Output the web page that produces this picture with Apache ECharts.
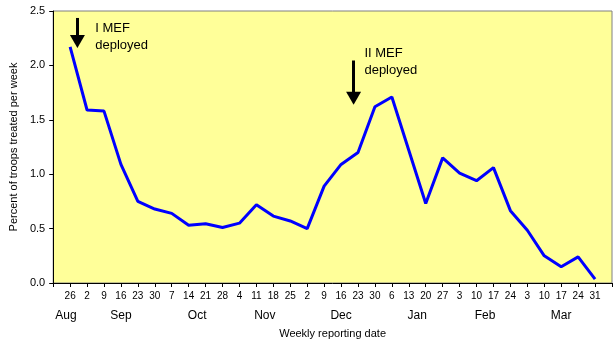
<!DOCTYPE html>
<html>
<head>
<meta charset="utf-8">
<script src="https://cdn.jsdelivr.net/npm/echarts@6/dist/echarts.min.js"></script>
<style>
html,body{margin:0;padding:0;background:#fff;}
#c{width:615px;height:344px;}
</style>
</head>
<body>
<div id="c"></div>
<script>
// Week labels (day of month) for each weekly reporting date
const weekDays = ['26','2','9','16','23','30','7','14','21','28','4','11','18','25','2','9','16','23','30','6','13','20','27','3','10','17','24','3','10','17','24','31'];
// Month groups
const monthNames = ['Aug','Sep','Oct','Nov','Dec','Jan','Feb','Mar'];
const weeksPerMonth = [1,5,4,4,5,4,4,5];
// Percent of troops treated per week
const percentTreated = [2.17,1.59,1.58,1.09,0.75,0.68,0.64,0.53,0.545,0.51,0.55,0.72,0.615,0.57,0.50,0.89,1.09,1.20,1.62,1.71,1.22,0.73,1.15,1.01,0.94,1.06,0.665,0.485,0.25,0.15,0.24,0.035];
// Y ticks
const yMin = 0, yMax = 2.5, yStep = 0.5;
// Annotations
const annotations = [
  {text:'I MEF\ndeployed', arrowX:1.43, arrowTop:2.436, arrowEnd:2.219, textX:2.48, textY:2.266},
  {text:'II MEF\ndeployed', arrowX:17.74, arrowTop:2.045, arrowEnd:1.699, textX:18.38, textY:2.03}
];

const FONT = '"Liberation Sans", Arial, sans-serif';
const nWeeks = weekDays.length;
const monthCenters = [];
let start = 1;
weeksPerMonth.forEach((n, k) => {
  const lo = k === 0 ? 0 : start - 0.5;
  const hi = start + n - 0.5;
  monthCenters.push((lo + hi) / 2);
  start += n;
});

const chart = echarts.init(document.getElementById('c'), null, {renderer:'canvas'});
chart.setOption({
  animation:false,
  backgroundColor:'#ffffff',
  grid:{left:53, right:2, top:11, bottom:60, show:true, backgroundColor:'#FFFF99', borderColor:'#808080', borderWidth:1},
  xAxis:[{
    type:'value', min:0, max:nWeeks+1, interval:1,
    axisLine:{show:true, lineStyle:{color:'#000', width:1}},
    axisTick:{show:true, length:4, lineStyle:{color:'#000'}},
    splitLine:{show:false},
    axisLabel:{color:'#000', fontFamily:FONT, fontSize:10, margin:8, showMinLabel:true, showMaxLabel:true,
      formatter:v => (v>=1 && v<=nWeeks) ? weekDays[Math.round(v)-1] : ''}
  },{
    type:'value', min:0, max:nWeeks+1, position:'bottom', offset:19,
    axisLine:{show:false}, axisTick:{show:false}, splitLine:{show:false},
    axisLabel:{color:'#000', fontFamily:FONT, fontSize:12, margin:8, customValues:monthCenters,
      formatter:v => { const i = monthCenters.findIndex(c => Math.abs(c - v) < 1e-6); return i>=0 ? monthNames[i] : ''; }},
    name:'Weekly reporting date', nameLocation:'middle', nameGap:26,
    nameTextStyle:{color:'#000', fontFamily:FONT, fontSize:11}
  }],
  yAxis:{
    type:'value', min:yMin, max:yMax, interval:yStep,
    axisLine:{show:true, lineStyle:{color:'#000', width:1}},
    axisTick:{show:true, length:4, lineStyle:{color:'#000'}},
    splitLine:{show:false},
    axisLabel:{color:'#000', fontFamily:FONT, fontSize:11, margin:8, formatter:v => v.toFixed(1)},
    name:'Percent of troops treated per week', nameLocation:'middle', nameGap:30, nameRotate:90,
    nameTextStyle:{color:'#000', fontFamily:FONT, fontSize:11}
  },
  series:[{
    type:'line', xAxisIndex:0, yAxisIndex:0,
    data:percentTreated.map((v,i) => [i+1, v]),
    symbol:'none',
    lineStyle:{color:'#0000FF', width:3},
    silent:true,
    markLine:{
      silent:true, symbol:['none','triangle'], symbolSize:[15,13],
      lineStyle:{color:'#000', width:3, type:'solid'},
      label:{show:false},
      emphasis:{disabled:true},
      data:annotations.map(a => [{coord:[a.arrowX, a.arrowTop]}, {coord:[a.arrowX, a.arrowEnd]}])
    },
    markPoint:{
      silent:true, symbol:'circle', symbolSize:0,
      label:{show:true, position:'right', distance:0, color:'#000', fontFamily:FONT, fontSize:13, lineHeight:17, formatter:p => p.name},
      data:annotations.map(a => ({name:a.text, coord:[a.textX, a.textY]}))
    }
  }]
});
</script>
</body>
</html>
